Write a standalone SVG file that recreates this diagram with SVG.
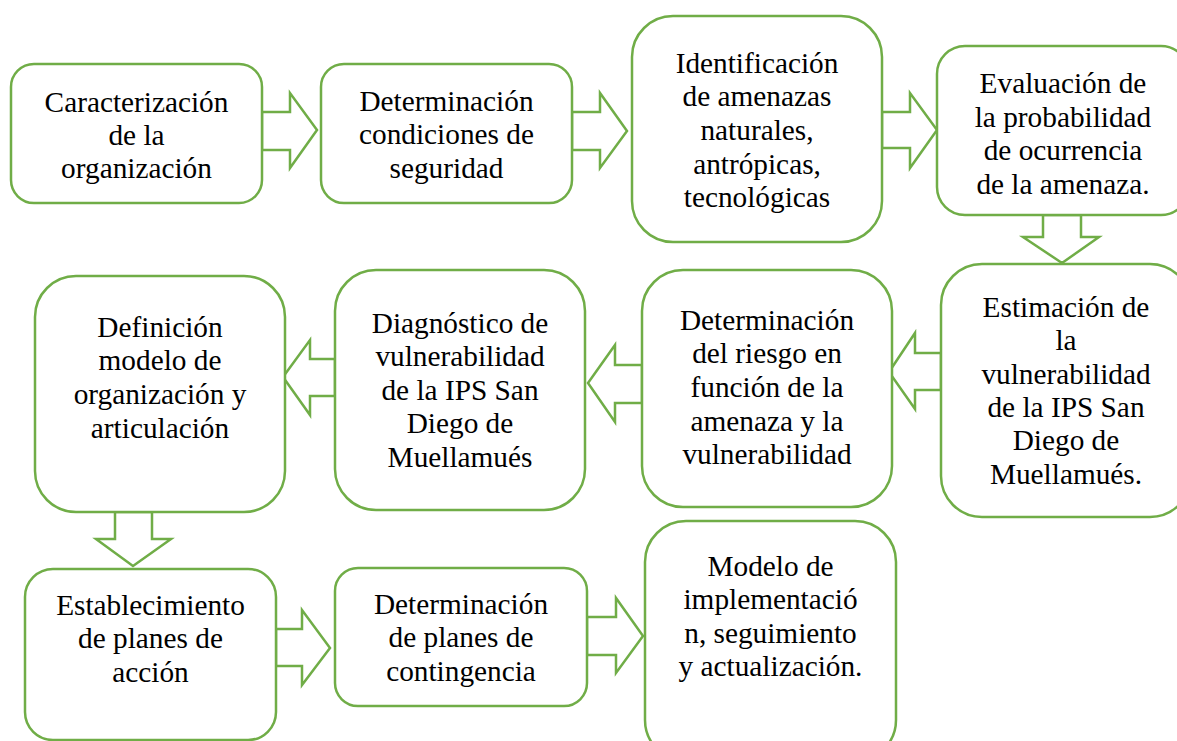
<svg xmlns="http://www.w3.org/2000/svg" width="1177" height="741" viewBox="0 0 1177 741">
<style>
.box{fill:#ffffff;stroke:#70AD47;stroke-width:2.5}
.arr{fill:#ffffff;stroke:#70AD47;stroke-width:2.5;stroke-linejoin:miter}
</style>
<rect width="1177" height="741" fill="#ffffff"/>
<g id="connectors">
<polygon class="arr" points="262,112 290,112 290,93 317,130 290,168 290,150 262,150"/>
<polygon class="arr" points="572,112 600,112 600,93 627,131 600,168 600,150 572,150"/>
<polygon class="arr" points="882,112 910,112 910,93 937,130 910,168 910,148 882,148"/>
<polygon class="arr" points="1043,215 1043,237 1023,237 1062,263 1099,237 1081,237 1081,215"/>
<polygon class="arr" points="941,353 915,353 915,333 889,372 915,409 915,390 941,390"/>
<polygon class="arr" points="642,365 615,365 615,345 588,383 615,422 615,403 642,403"/>
<polygon class="arr" points="335,359 310,359 310,340 283,377 310,415 310,396 335,396"/>
<polygon class="arr" points="115,512 115,539 96,539 133,566 171,539 152,539 152,512"/>
<polygon class="arr" points="276,629 302,629 302,610 330,648 302,685 302,666 276,666"/>
<polygon class="arr" points="587,617 616,617 616,598 643,636 616,673 616,655 587,655"/>
</g>
<g font-family="Liberation Serif, Times New Roman, serif" font-size="29.3" fill="#000000" text-anchor="middle">
<g id="n1">
<rect class="box" x="11" y="64" width="251" height="139" rx="23" ry="23"/>
<text><tspan x="136.5" y="112">Caracterización</tspan><tspan x="136.5" y="145">de la</tspan><tspan x="136.5" y="178">organización</tspan></text>
</g>
<g id="n2">
<rect class="box" x="321" y="64" width="251" height="139" rx="23" ry="23"/>
<text><tspan x="446.5" y="111">Determinación</tspan><tspan x="446.5" y="144">condiciones de</tspan><tspan x="446.5" y="178">seguridad</tspan></text>
</g>
<g id="n3">
<rect class="box" x="632" y="16" width="250" height="226" rx="41" ry="41"/>
<text><tspan x="757" y="73">Identificación</tspan><tspan x="757" y="106">de amenazas</tspan><tspan x="757" y="140">naturales,</tspan><tspan x="757" y="174">antrópicas,</tspan><tspan x="757" y="207">tecnológicas</tspan></text>
</g>
<g id="n4">
<rect class="box" x="937" y="46" width="252" height="169" rx="28" ry="28"/>
<text><tspan x="1063" y="93">Evaluación de</tspan><tspan x="1063" y="127">la probabilidad</tspan><tspan x="1063" y="160">de ocurrencia</tspan><tspan x="1063" y="194">de la amenaza.</tspan></text>
</g>
<g id="n5">
<rect class="box" x="941" y="264" width="250" height="253" rx="41" ry="41"/>
<text><tspan x="1066" y="317">Estimación de</tspan><tspan x="1066" y="350">la</tspan><tspan x="1066" y="384">vulnerabilidad</tspan><tspan x="1066" y="417">de la IPS San</tspan><tspan x="1066" y="450">Diego de</tspan><tspan x="1066" y="484">Muellamués.</tspan></text>
</g>
<g id="n6">
<rect class="box" x="642" y="270" width="250" height="237" rx="41" ry="41"/>
<text><tspan x="767" y="330">Determinación</tspan><tspan x="767" y="363">del riesgo en</tspan><tspan x="767" y="397">función de la</tspan><tspan x="767" y="431">amenaza y la</tspan><tspan x="767" y="464">vulnerabilidad</tspan></text>
</g>
<g id="n7">
<rect class="box" x="335" y="270" width="250" height="240" rx="41" ry="41"/>
<text><tspan x="460" y="333">Diagnóstico de</tspan><tspan x="460" y="366">vulnerabilidad</tspan><tspan x="460" y="400">de la IPS San</tspan><tspan x="460" y="433">Diego de</tspan><tspan x="460" y="467">Muellamués</tspan></text>
</g>
<g id="n8">
<rect class="box" x="35" y="276" width="250" height="236" rx="41" ry="41"/>
<text><tspan x="160" y="337">Definición</tspan><tspan x="160" y="370">modelo de</tspan><tspan x="160" y="404">organización y</tspan><tspan x="160" y="438">articulación</tspan></text>
</g>
<g id="n9">
<rect class="box" x="25" y="569" width="251" height="171" rx="28" ry="28"/>
<text><tspan x="150.5" y="615">Establecimiento</tspan><tspan x="150.5" y="648">de planes de</tspan><tspan x="150.5" y="682">acción</tspan></text>
</g>
<g id="n10">
<rect class="box" x="335" y="568" width="252" height="138" rx="23" ry="23"/>
<text><tspan x="461" y="614">Determinación</tspan><tspan x="461" y="647">de planes de</tspan><tspan x="461" y="681">contingencia</tspan></text>
</g>
<g id="n11">
<rect class="box" x="645" y="521" width="251" height="240" rx="41" ry="41"/>
<text><tspan x="770.5" y="576">Modelo de</tspan><tspan x="770.5" y="609">implementació</tspan><tspan x="770.5" y="643">n, seguimiento</tspan><tspan x="770.5" y="676">y actualización.</tspan></text>
</g>
</g>
</svg>
